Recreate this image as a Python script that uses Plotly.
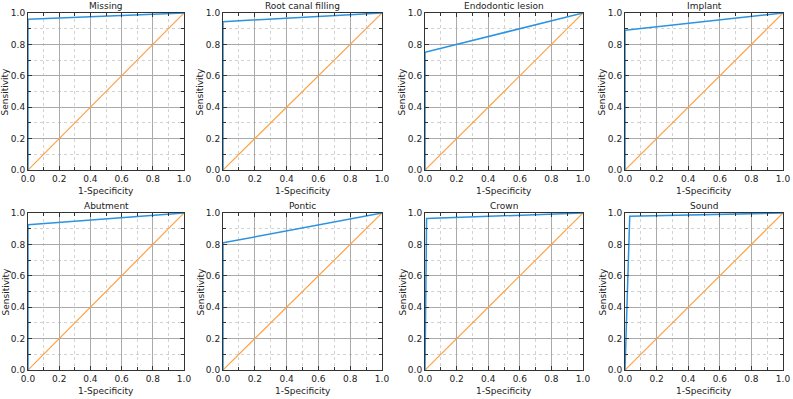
import plotly.graph_objects as go

W, H = 793, 399

categories = ["Missing", "Root canal filling", "Endodontic lesion", "Implant",
              "Abutment", "Pontic", "Crown", "Sound"]
roc_fpr = [
    [0, 0, 1],
    [0, 0, 1],
    [0, 0, 1],
    [0, 0, 1],
    [0, 0, 1],
    [0, 0, 1],
    [0, 0.01, 1],
    [0, 0.03, 1],
]
roc_tpr = [
    [0, 0.96, 1],
    [0, 0.945, 1],
    [0, 0.75, 1],
    [0, 0.89, 1],
    [0, 0.925, 1],
    [0, 0.81, 1],
    [0, 0.965, 1],
    [0, 0.98, 1],
]
ref_line = [0, 1]
tick_vals = [0.0, 0.2, 0.4, 0.6, 0.8, 1.0]
tick_text = ["0.0", "0.2", "0.4", "0.6", "0.8", "1.0"]
x_title = "1-Specificity"
y_title = "Sensitivity"

# pixel boxes of plot areas (left, right) and (top, bottom)
col_px = [(28, 184), (223, 382), (425, 583), (625, 783)]
row_px = [(13, 170), (213, 370)]

FONT = "DejaVu Sans"
BLUE = "#2b93e0"
ORANGE = "#ffa040"

fig = go.Figure()
layout = dict(
    template="none",
    width=W, height=H, margin=dict(l=0, r=0, t=0, b=0, pad=0, autoexpand=False),
    paper_bgcolor="white", plot_bgcolor="white", showlegend=False,
    font=dict(family=FONT, size=9, color="#222"),
    annotations=[],
)

for i, name in enumerate(categories):
    r, c = divmod(i, 4)
    xa = "x" if i == 0 else f"x{i+1}"
    ya = "y" if i == 0 else f"y{i+1}"
    L, R = col_px[c]
    T, B = row_px[r]
    axcommon = dict(
        range=[0, 1], tickvals=tick_vals, ticktext=tick_text, automargin=False,
        showline=True, linecolor="#333", linewidth=1, mirror="allticks",
        ticks="inside", ticklen=4, tickcolor="#333",
        showgrid=True, gridcolor="#aaaaaa", gridwidth=1,
        zeroline=False, tickfont=dict(size=9, family=FONT, color="#222"),
        minor=dict(dtick=0.1, tick0=0, ticks="inside", ticklen=3, tickcolor="#333",
                   showgrid=True, gridcolor="#d2d2d2", griddash="dot", gridwidth=1),
        fixedrange=True,
    )
    layout["xaxis" if i == 0 else f"xaxis{i+1}"] = dict(
        axcommon, domain=[L / W, R / W], anchor=ya)
    layout["yaxis" if i == 0 else f"yaxis{i+1}"] = dict(
        axcommon, domain=[1 - B / H, 1 - T / H], anchor=xa)

    fig.add_trace(go.Scatter(x=ref_line, y=ref_line, mode="lines", xaxis=xa, yaxis=ya,
                             line=dict(color=ORANGE, width=1.2), hoverinfo="skip"))
    fig.add_trace(go.Scatter(x=roc_fpr[i], y=roc_tpr[i], mode="lines", xaxis=xa, yaxis=ya,
                             line=dict(color=BLUE, width=1.5), cliponaxis=False))

    layout["annotations"].append(dict(
        text=name, xref=f"{xa} domain", yref=f"{ya} domain", x=0.5, y=1,
        yshift=0, xanchor="center", yanchor="bottom", showarrow=False,
        font=dict(size=9, family=FONT, color="#222")))
    layout["annotations"].append(dict(
        text=x_title, xref=f"{xa} domain", yref=f"{ya} domain", x=0.5, y=0,
        yshift=-14, xanchor="center", yanchor="top", showarrow=False,
        font=dict(size=9, family=FONT, color="#222")))
    layout["annotations"].append(dict(
        text=y_title, xref=f"{xa} domain", yref=f"{ya} domain", x=0, y=0.5,
        xshift=-16, xanchor="right", yanchor="middle", textangle=-90, showarrow=False,
        font=dict(size=9, family=FONT, color="#222")))

fig.update_layout(**layout)
fig.write_html("out.html", config={"displayModeBar": False},
               post_script="document.body.style.margin='0';")
